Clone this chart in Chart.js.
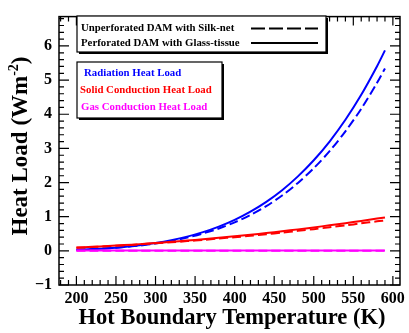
<!DOCTYPE html>
<html>
<head>
<meta charset="utf-8">
<script src="https://cdn.jsdelivr.net/npm/chart.js@4"></script>
<style>
  html, body { margin: 0; padding: 0; background: #fff; }
  #wrap { width: 409px; height: 333px; position: relative; }
</style>
</head>
<body>
<div id="wrap"><canvas id="heatChart" width="409" height="333"></canvas></div>
<script>
// Hot boundary temperature (K)
const temps = [200, 220, 240, 260, 280, 300, 320, 340, 360, 380, 400, 420, 440, 460, 480, 500, 520, 540, 560, 580, 590];

// Perforated DAM with Glass-tissue (solid lines)
const radPerf   = [0.033, 0.052, 0.078, 0.115, 0.164, 0.228, 0.311, 0.416, 0.548, 0.710, 0.909, 1.149, 1.436, 1.777, 2.181, 2.653, 3.201, 3.838, 4.569, 5.407, 5.87];
const solidPerf = [0.096, 0.118, 0.142, 0.168, 0.197, 0.229, 0.263, 0.300, 0.339, 0.381, 0.425, 0.472, 0.522, 0.574, 0.629, 0.687, 0.747, 0.810, 0.876, 0.945, 0.98];
const gasPerf   = [0.01, 0.01, 0.01, 0.01, 0.01, 0.01, 0.01, 0.01, 0.01, 0.01, 0.01, 0.01, 0.01, 0.01, 0.01, 0.01, 0.01, 0.01, 0.01, 0.01, 0.01];

// Unperforated DAM with Silk-net (dashed lines)
const radUnperf   = [0.03, 0.05, 0.075, 0.11, 0.155, 0.215, 0.29, 0.39, 0.51, 0.655, 0.835, 1.05, 1.31, 1.62, 1.99, 2.42, 2.92, 3.5, 4.16, 4.92, 5.34];
const solidUnperf = [0.09, 0.11, 0.135, 0.16, 0.19, 0.22, 0.25, 0.285, 0.32, 0.36, 0.40, 0.44, 0.485, 0.535, 0.585, 0.635, 0.69, 0.745, 0.805, 0.865, 0.89];
const gasUnperf   = [0.005, 0.005, 0.005, 0.005, 0.005, 0.005, 0.005, 0.005, 0.005, 0.005, 0.005, 0.005, 0.005, 0.005, 0.005, 0.005, 0.005, 0.005, 0.005, 0.005, 0.005];

const xTicks = [200, 250, 300, 350, 400, 450, 500, 550, 600];
const yTicks = [-1, 0, 1, 2, 3, 4, 5, 6];

const BLUE = '#0000ff', RED = '#ff0000', MAGENTA = '#ff00ff';
const SERIF = '"Liberation Serif", "Times New Roman", serif';

function pts(ys) {
    return temps.map((t, i) => ({ x: t, y: ys[i] }));
}

function line(label, ys, color, dashed) {
    return {
        label: label,
        data: pts(ys),
        borderColor: color,
        borderWidth: 2,
        borderDash: dashed ? [9, 4] : [],
        pointRadius: 0,
        fill: false,
        tension: 0.3
    };
}

// ticks (in/out mirrored), frame, axis titles and the two legend boxes
const decorations = {
    id: 'decorations',
    afterDatasetsDraw(chart) {
        const ctx = chart.ctx;
        const a = chart.chartArea;
        const xs = chart.scales.x, ys = chart.scales.y;
        ctx.save();
        ctx.strokeStyle = '#000';
        ctx.lineWidth = 1.5;
        ctx.strokeRect(a.left, a.top, a.right - a.left, a.bottom - a.top);

        ctx.lineWidth = 1.2;
        ctx.beginPath();
        for (let v = 180; v <= 600; v += 10) {
            const px = xs.getPixelForValue(v);
            if (px < a.left || px > a.right) continue;
            const len = (v % 50 === 0) ? 9 : 5;
            ctx.moveTo(px, a.bottom); ctx.lineTo(px, a.bottom - len);
            ctx.moveTo(px, a.top); ctx.lineTo(px, a.top + len);
        }
        for (let k = -5; k <= 34; k++) {
            const v = k * 0.2;
            const py = ys.getPixelForValue(v);
            if (py < a.top || py > a.bottom) continue;
            const len = (k % 5 === 0) ? 10 : 5;
            ctx.moveTo(a.left, py); ctx.lineTo(a.left + len, py);
            ctx.moveTo(a.right, py); ctx.lineTo(a.right - len, py);
        }
        ctx.stroke();

        // axis titles
        ctx.fillStyle = '#000';
        ctx.font = 'bold 22.5px ' + SERIF;
        ctx.textAlign = 'center';
        ctx.textBaseline = 'alphabetic';
        ctx.fillText('Hot Boundary Temperature (K)', 232, 324);

        ctx.save();
        ctx.translate(27, 146);
        ctx.rotate(-Math.PI / 2);
        const main = 'Heat Load (Wm';
        const sup = '-2';
        const tail = ')';
        ctx.font = 'bold 23px ' + SERIF;
        const w1 = ctx.measureText(main).width;
        const w3 = ctx.measureText(tail).width;
        ctx.font = 'bold 14px ' + SERIF;
        const w2 = ctx.measureText(sup).width;
        let x0 = -(w1 + w2 + w3) / 2;
        ctx.textAlign = 'left';
        ctx.font = 'bold 23px ' + SERIF;
        ctx.fillText(main, x0, 0);
        ctx.font = 'bold 14px ' + SERIF;
        ctx.fillText(sup, x0 + w1, -9);
        ctx.font = 'bold 23px ' + SERIF;
        ctx.fillText(tail, x0 + w1 + w2, 0);
        ctx.restore();

        // legend boxes
        function box(x, y, w, h) {
            ctx.fillStyle = '#000';
            ctx.fillRect(x + 2, y + 2, w, h);
            ctx.fillStyle = '#fff';
            ctx.fillRect(x, y, w, h);
            ctx.lineWidth = 1.2;
            ctx.strokeStyle = '#000';
            ctx.strokeRect(x, y, w, h);
        }
        box(77, 16, 249, 36);
        box(77, 62, 145, 56);

        ctx.textAlign = 'left';
        ctx.textBaseline = 'middle';
        ctx.font = 'bold 10.8px ' + SERIF;
        ctx.fillStyle = '#000';
        ctx.fillText('Unperforated DAM with Silk-net', 81, 28.5);
        ctx.fillText('Perforated DAM with Glass-tissue', 81, 43);
        ctx.lineWidth = 2;
        ctx.strokeStyle = '#000';
        ctx.setLineDash([14, 4]);
        ctx.beginPath(); ctx.moveTo(251, 28.5); ctx.lineTo(318, 28.5); ctx.stroke();
        ctx.setLineDash([]);
        ctx.beginPath(); ctx.moveTo(251, 43); ctx.lineTo(318, 43); ctx.stroke();

        ctx.fillStyle = BLUE;
        ctx.fillText('Radiation Heat Load', 84, 73.5);
        ctx.fillStyle = RED;
        ctx.fillText('Solid Conduction Heat Load', 80, 90);
        ctx.fillStyle = MAGENTA;
        ctx.fillText('Gas Conduction Heat Load', 81, 107);
        ctx.restore();
    }
};

const ctx = document.getElementById('heatChart').getContext('2d');
new Chart(ctx, {
    type: 'line',
    data: {
        datasets: [
            line('Gas Conduction (Silk-net)', gasUnperf, MAGENTA, true),
            line('Gas Conduction (Glass-tissue)', gasPerf, MAGENTA, false),
            line('Solid Conduction (Silk-net)', solidUnperf, RED, true),
            line('Solid Conduction (Glass-tissue)', solidPerf, RED, false),
            line('Radiation (Silk-net)', radUnperf, BLUE, true),
            line('Radiation (Glass-tissue)', radPerf, BLUE, false)
        ]
    },
    options: {
        responsive: false,
        animation: false,
        layout: { padding: { top: 4, right: 6, left: 0, bottom: 0 } },
        plugins: { legend: { display: false }, tooltip: { enabled: false } },
        scales: {
            x: {
                type: 'linear',
                min: 178,
                max: 609,
                grid: { display: false, drawTicks: false },
                border: { display: false },
                afterFit: s => { s.height = 48; },
                afterBuildTicks: s => { s.ticks = xTicks.map(v => ({ value: v })); },
                ticks: {
                    color: '#000',
                    padding: 4,
                    maxRotation: 0,
                    font: { family: SERIF, weight: 'bold', size: 16 }
                }
            },
            y: {
                type: 'linear',
                min: -1,
                max: 6.86,
                grid: { display: false, drawTicks: false },
                border: { display: false },
                afterFit: s => { s.width = 59; },
                afterBuildTicks: s => { s.ticks = yTicks.map(v => ({ value: v })); },
                ticks: {
                    color: '#000',
                    padding: 7,
                    font: { family: SERIF, weight: 'bold', size: 16 },
                    callback: v => v < 0 ? '\u2212' + Math.abs(v) : String(v)
                }
            }
        }
    },
    plugins: [decorations]
});
</script>
</body>
</html>
